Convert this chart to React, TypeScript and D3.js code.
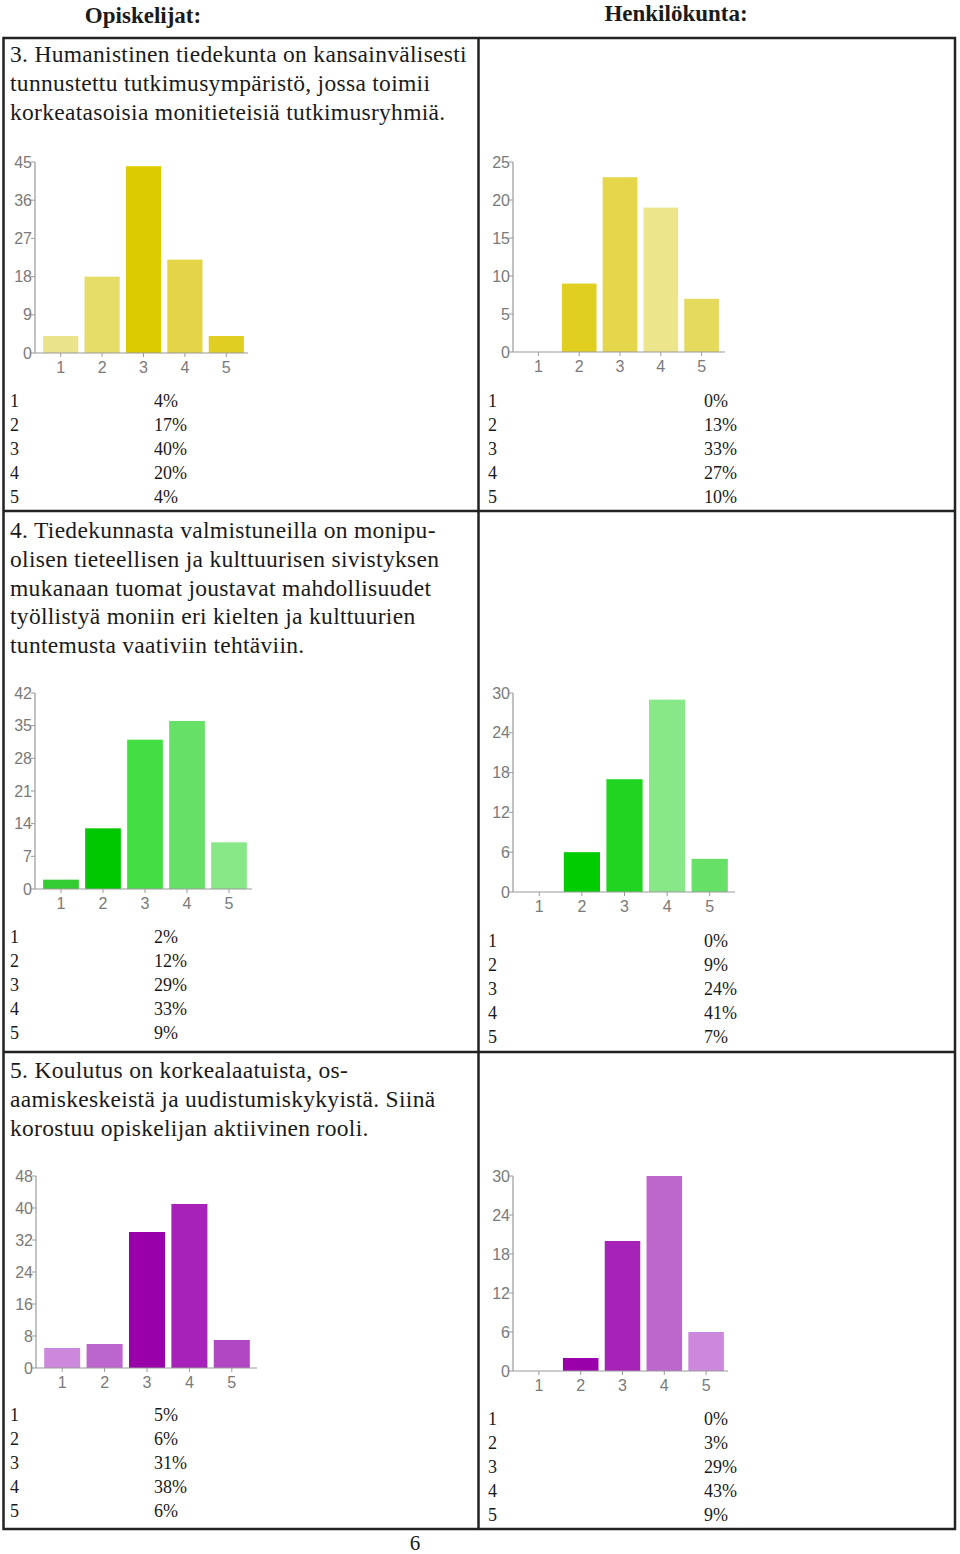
import React from "react";
import * as d3 from "d3";

const categories = ["1", "2", "3", "4", "5"];

const studentsQ3 = [4, 18, 44, 22, 4];
const staffQ3 = [0, 9, 23, 19, 7];
const studentsQ4 = [2, 13, 32, 36, 10];
const staffQ4 = [0, 6, 17, 29, 5];
const studentsQ5 = [5, 6, 34, 41, 7];
const staffQ5 = [0, 2, 20, 30, 6];

const studentsQ3Pct = ["4%", "17%", "40%", "20%", "4%"];
const staffQ3Pct = ["0%", "13%", "33%", "27%", "10%"];
const studentsQ4Pct = ["2%", "12%", "29%", "33%", "9%"];
const staffQ4Pct = ["0%", "9%", "24%", "41%", "7%"];
const studentsQ5Pct = ["5%", "6%", "31%", "38%", "6%"];
const staffQ5Pct = ["0%", "3%", "29%", "43%", "9%"];

const ticksStudentsQ3 = [0, 9, 18, 27, 36, 45];
const ticksStaffQ3 = [0, 5, 10, 15, 20, 25];
const ticksStudentsQ4 = [0, 7, 14, 21, 28, 35, 42];
const ticksStaffQ4 = [0, 6, 12, 18, 24, 30];
const ticksStudentsQ5 = [0, 8, 16, 24, 32, 40, 48];
const ticksStaffQ5 = [0, 6, 12, 18, 24, 30];

const colorsStudentsQ3 = ["#ebe38c", "#e6dc68", "#dccb00", "#e4d548", "#e0cf22"];
const colorsStaffQ3 = ["#e0ce20", "#e0ce20", "#e5d64c", "#ede58c", "#e6da5e"];
const colorsStudentsQ4 = ["#33cc33", "#00c800", "#44dd44", "#66e066", "#88e888"];
const colorsStaffQ4 = ["#00cc00", "#00cc00", "#22d422", "#88e888", "#66e066"];
const colorsStudentsQ5 = ["#cc88dd", "#bb66cc", "#9900aa", "#a622b8", "#b048c4"];
const colorsStaffQ5 = ["#9900aa", "#9900aa", "#a622b8", "#bd66cc", "#cc88dd"];

const q3Lines = [
  "3. Humanistinen tiedekunta on kansainvälisesti",
  "tunnustettu tutkimusympäristö, jossa toimii",
  "korkeatasoisia monitieteisiä tutkimusryhmiä.",
];
const q4Lines = [
  "4. Tiedekunnasta valmistuneilla on monipu-",
  "olisen tieteellisen ja kulttuurisen sivistyksen",
  "mukanaan tuomat joustavat mahdollisuudet",
  "työllistyä moniin eri kielten ja kulttuurien",
  "tuntemusta vaativiin tehtäviin.",
];
const q5Lines = [
  "5. Koulutus on korkealaatuista, os-",
  "aamiskeskeistä ja uudistumiskykyistä. Siinä",
  "korostuu opiskelijan aktiivinen rooli.",
];

const SERIF = "'Liberation Serif', 'Times New Roman', serif";
const SANS = "'Liberation Sans', Arial, sans-serif";

type ChartProps = {
  values: number[];
  ticks: number[];
  colors: string[];
  axisX: number;
  axisEnd: number;
  zeroY: number;
  topY: number;
  r0: number;
  r1: number;
};

function BarChart({ values, ticks, colors, axisX, axisEnd, zeroY, topY, r0, r1 }: ChartProps) {
  const y = d3.scaleLinear().domain([0, ticks[ticks.length - 1]]).range([zeroY, topY]);
  const x = d3.scaleBand<string>().domain(categories).range([r0, r1]).paddingInner(0.15).paddingOuter(0.075);
  return (
    <g>
      {values.map((v, i) =>
        v > 0 ? (
          <rect
            key={i}
            x={x(categories[i])}
            y={y(v)}
            width={x.bandwidth()}
            height={zeroY - y(v)}
            fill={colors[i]}
          />
        ) : null
      )}
      <line x1={axisX} x2={axisX} y1={topY} y2={zeroY} stroke="#9a9a9a" strokeWidth={1.2} />
      <line x1={axisX} x2={axisEnd} y1={zeroY} y2={zeroY} stroke="#9a9a9a" strokeWidth={1.2} />
      {ticks.map((t) => (
        <g key={t}>
          <line x1={axisX - 4} x2={axisX} y1={y(t)} y2={y(t)} stroke="#9a9a9a" strokeWidth={1} />
          <text x={axisX - 3} y={y(t) + 5.5} textAnchor="end" fontFamily={SANS} fontSize={16} fill="#7a7a7a">
            {t}
          </text>
        </g>
      ))}
      {categories.map((c) => {
        const cx = (x(c) as number) + x.bandwidth() / 2;
        return (
          <g key={c}>
            <line x1={cx} x2={cx} y1={zeroY} y2={zeroY + 4} stroke="#9a9a9a" strokeWidth={1} />
            <text x={cx} y={zeroY + 20} textAnchor="middle" fontFamily={SANS} fontSize={16} fill="#7a7a7a">
              {c}
            </text>
          </g>
        );
      })}
    </g>
  );
}

function TextBlock({ lines, x, y0, step }: { lines: string[]; x: number; y0: number; step: number }) {
  return (
    <g>
      {lines.map((l, i) => (
        <text key={i} x={x} y={y0 + i * step} fontFamily={SERIF} fontSize={23.5} letterSpacing={0.3} fill="#1a1a1a">
          {l}
        </text>
      ))}
    </g>
  );
}

function PctTable({ pct, x1, x2, y0 }: { pct: string[]; x1: number; x2: number; y0: number }) {
  return (
    <g>
      {categories.map((c, i) => (
        <g key={c}>
          <text x={x1} y={y0 + i * 24} fontFamily={SERIF} fontSize={18} fill="#1a1a1a">
            {c}
          </text>
          <text x={x2} y={y0 + i * 24} fontFamily={SERIF} fontSize={18} fill="#1a1a1a">
            {pct[i]}
          </text>
        </g>
      ))}
    </g>
  );
}

export default function App() {
  const border = "#222";
  return (
    <div style={{ position: "absolute", left: 0, top: 0 }}>
      <svg width={960} height={1554} style={{ display: "block", background: "#fff" }}>
        <rect x={0} y={0} width={960} height={1554} fill="#fff" />
        <text x={143} y={23} textAnchor="middle" fontFamily={SERIF} fontWeight="bold" fontSize={23} fill="#1a1a1a">
          Opiskelijat:
        </text>
        <text x={676} y={21} textAnchor="middle" fontFamily={SERIF} fontWeight="bold" fontSize={23} fill="#1a1a1a">
          Henkilökunta:
        </text>

        {/* table grid */}
        <g stroke={border} strokeWidth={2.5} fill="none">
          <rect x={3.5} y={38} width={951.5} height={1491} />
          <line x1={478.5} x2={478.5} y1={38} y2={1529} />
          <line x1={3.5} x2={955} y1={511} y2={511} />
          <line x1={3.5} x2={955} y1={1052} y2={1052} />
        </g>

        <TextBlock lines={q3Lines} x={10} y0={62} step={29} />
        <TextBlock lines={q4Lines} x={10} y0={538} step={28.8} />
        <TextBlock lines={q5Lines} x={10} y0={1078} step={29} />

        <BarChart values={studentsQ3} ticks={ticksStudentsQ3} colors={colorsStudentsQ3}
          axisX={35} axisEnd={248} zeroY={353} topY={162} r0={40} r1={247} />
        <BarChart values={staffQ3} ticks={ticksStaffQ3} colors={colorsStaffQ3}
          axisX={513} axisEnd={725} zeroY={352} topY={162} r0={518} r1={722} />
        <BarChart values={studentsQ4} ticks={ticksStudentsQ4} colors={colorsStudentsQ4}
          axisX={35} axisEnd={252} zeroY={889} topY={693} r0={40} r1={250} />
        <BarChart values={staffQ4} ticks={ticksStaffQ4} colors={colorsStaffQ4}
          axisX={513} axisEnd={735} zeroY={892} topY={693} r0={518} r1={731} />
        <BarChart values={studentsQ5} ticks={ticksStudentsQ5} colors={colorsStudentsQ5}
          axisX={36} axisEnd={257} zeroY={1368} topY={1176} r0={41} r1={253} />
        <BarChart values={staffQ5} ticks={ticksStaffQ5} colors={colorsStaffQ5}
          axisX={513} axisEnd={728} zeroY={1371} topY={1176} r0={518} r1={727} />

        <PctTable pct={studentsQ3Pct} x1={10} x2={154} y0={407} />
        <PctTable pct={staffQ3Pct} x1={488} x2={704} y0={407} />
        <PctTable pct={studentsQ4Pct} x1={10} x2={154} y0={943} />
        <PctTable pct={staffQ4Pct} x1={488} x2={704} y0={947} />
        <PctTable pct={studentsQ5Pct} x1={10} x2={154} y0={1421} />
        <PctTable pct={staffQ5Pct} x1={488} x2={704} y0={1425} />

        <text x={415} y={1550} textAnchor="middle" fontFamily={SERIF} fontSize={21} fill="#1a1a1a">
          6
        </text>
      </svg>
    </div>
  );
}
